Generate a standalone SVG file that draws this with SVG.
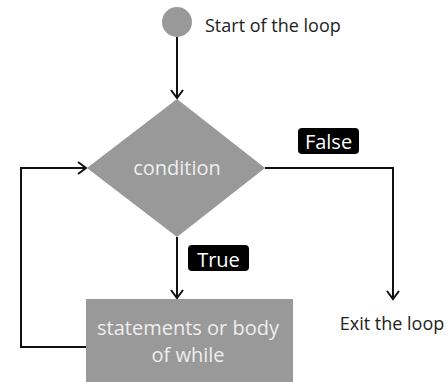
<svg xmlns="http://www.w3.org/2000/svg" width="447" height="382" viewBox="0 0 447 382">
<style>
.shape{fill:#999999}
.in{font-family:"Open Sans","Noto Sans",sans-serif;font-size:20px;fill:#eeeeee;text-anchor:middle}
.lbl{font-family:"Open Sans","Noto Sans",sans-serif;font-size:18px;fill:#222222}
.tag{fill:#000000}
.tagt{font-family:"Open Sans","Noto Sans",sans-serif;font-size:20px;fill:#ffffff;text-anchor:middle}
.ln{fill:none;stroke:#111111;stroke-width:2}
</style>
<defs>
<marker id="arr" markerWidth="14" markerHeight="14" refX="10" refY="7" orient="auto" markerUnits="userSpaceOnUse">
<path d="M2,1 L10,7 L2,13" fill="none" stroke="#111111" stroke-width="2"/>
</marker>
</defs>
<rect width="447" height="382" fill="#ffffff"/>
<g id="connectors">
<line class="ln" x1="177" y1="37" x2="177" y2="98" marker-end="url(#arr)"/>
<polyline class="ln" points="265,168 393,168 393,299" marker-end="url(#arr)"/>
<line class="ln" x1="177" y1="237" x2="177" y2="298" marker-end="url(#arr)"/>
<polyline class="ln" points="86,347 21,347 21,168 86,168" marker-end="url(#arr)"/>
</g>
<g id="start">
<circle class="shape" cx="177" cy="22" r="15"/>
<text class="lbl" x="205" y="32">Start of the loop</text>
</g>
<g id="condition">
<polygon class="shape" points="177,99 265,168 177,237 87,168"/>
<text class="in" x="177" y="175">condition</text>
</g>
<g id="false-label">
<rect class="tag" x="298" y="128" width="61" height="26" rx="4"/>
<text class="tagt" x="328.5" y="149">False</text>
</g>
<g id="true-label">
<rect class="tag" x="188" y="245" width="61" height="26" rx="4"/>
<text class="tagt" x="218.5" y="267">True</text>
</g>
<g id="body">
<rect class="shape" x="86" y="299" width="207" height="83"/>
<text class="in" x="188" y="335">statements or body</text>
<text class="in" x="188" y="362">of while</text>
</g>
<g id="exit">
<text class="lbl" x="392" y="330" text-anchor="middle">Exit the loop</text>
</g>
</svg>
